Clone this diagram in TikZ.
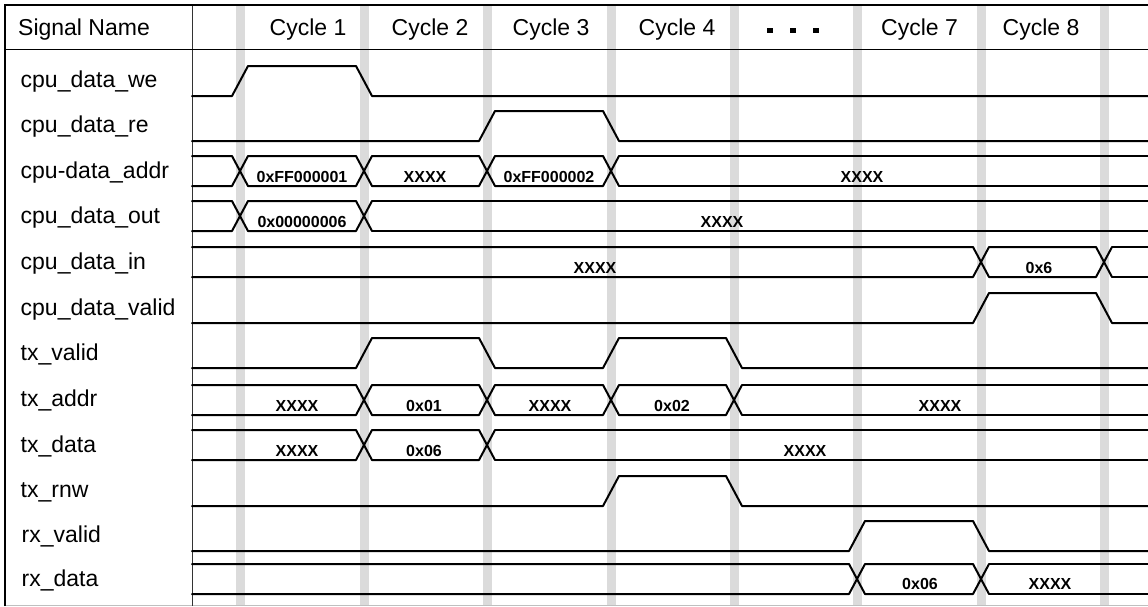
\documentclass[tikz,border=0pt]{standalone}
\usepackage{fontspec}
\setmainfont{Liberation Sans}
\newcommand\busrow[2]{%
  \pgfmathsetmacro\ybot{#1+30}%
  \xdef\xprev{192}%
  \foreach \c in {#2}{%
    \draw[wave] (\xprev,#1) -- (\c-8,#1) -- (\c+8,\ybot) (\xprev,\ybot) -- (\c-8,\ybot) -- (\c+8,#1);
    \pgfmathsetmacro\xn{\c+8}\xdef\xprev{\xn}%
  }%
  \draw[wave] (\xprev,#1) -- (1148,#1) (\xprev,\ybot) -- (1148,\ybot);
}
\begin{document}
\begin{tikzpicture}[x=1pt,y=-1pt,
  wave/.style={line width=2pt, line cap=round, line join=round},
  band/.style={fill=black!14, draw=none},
  signame/.style={anchor=base west, inner sep=0pt, font=\fontsize{23}{27}\selectfont},
  head/.style={anchor=base, inner sep=0pt, font=\fontsize{23}{27}\selectfont},
  val/.style={anchor=base, inner sep=0pt, font=\bfseries\fontsize{16}{19}\selectfont},
  dotsq/.style={fill=black, draw=none, minimum size=5.5pt, inner sep=0pt}]
\useasboundingbox (0,0) rectangle (1148,606);
% gray cycle bands
\foreach \c in {240,364,487,611,734,857,981,1104}
  \fill[band] (\c-4.5,5) rectangle (\c+4.5,606);
% frame
\draw[line width=0.6pt, black!25] (5,605.5) -- (1148,605.5);
\draw[line width=1.2pt, black!80] (192.3,5) -- (192.3,606);
\draw[line width=1pt] (5,49.3) -- (1148,49.3);
\draw[line width=2pt] (5,606) -- (5,5) -- (1148,5);
% header
\node[head] (hname) at (84,35) {Signal Name};
\node[head] (h1) at (308,35) {Cycle 1};
\node[head] (h2) at (430,35) {Cycle 2};
\node[head] (h3) at (551,35) {Cycle 3};
\node[head] (h4) at (677,35) {Cycle 4};
\node[dotsq] (d1) at (770,30.5) {};
\node[dotsq] (d2) at (793,30.5) {};
\node[dotsq] (d3) at (816,30.5) {};
\node[head] (h7) at (919.5,35) {Cycle 7};
\node[head] (h8) at (1041,35) {Cycle 8};
% signal names
\node[signame] (s1) at (20.5,87.5) {cpu\_data\_we};
\node[signame] (s2) at (20.5,132.5) {cpu\_data\_re};
\node[signame] (s3) at (20.5,178) {cpu-data\_addr};
\node[signame] (s4) at (20.5,223) {cpu\_data\_out};
\node[signame] (s5) at (20.5,269) {cpu\_data\_in};
\node[signame] (s6) at (20.5,315) {cpu\_data\_valid};
\node[signame] (s7) at (20.5,360) {tx\_valid};
\node[signame] (s8) at (20.5,406.5) {tx\_addr};
\node[signame] (s9) at (20.5,452) {tx\_data};
\node[signame] (s10) at (20.5,497.5) {tx\_rnw};
\node[signame] (s11) at (21.5,542.5) {rx\_valid};
\node[signame] (s12) at (21.5,586.5) {rx\_data};
% single-bit waveforms
\draw[wave] (192,96) -- (232,96) -- (248,66) -- (356,66) -- (372,96) -- (1148,96);
\draw[wave] (192,141) -- (479,141) -- (495,111) -- (603,111) -- (619,141) -- (1148,141);
\draw[wave] (192,323) -- (973,323) -- (989,293) -- (1096,293) -- (1112,323) -- (1148,323);
\draw[wave] (192,368) -- (356,368) -- (372,338) -- (479,338) -- (495,368) -- (603,368) -- (619,338) -- (726,338) -- (742,368) -- (1148,368);
\draw[wave] (192,506) -- (603,506) -- (619,476) -- (726,476) -- (742,506) -- (1148,506);
\draw[wave] (192,551) -- (849,551) -- (865,521) -- (973,521) -- (989,551) -- (1148,551);
% bus waveforms
\busrow{156}{240,364,487,611}
\busrow{201}{240,364}
\busrow{247}{981,1104}
\busrow{385}{364,487,611,734}
\busrow{430}{364,487}
\busrow{564}{857,981}
% bus values
\node[val] (a1) at (302,182.5) {0xFF000001};
\node[val] (a2) at (425,182.5) {XXXX};
\node[val] (a3) at (549,182.5) {0xFF000002};
\node[val] (a4) at (862,182.5) {XXXX};
\node[val] (o1) at (302,227.5) {0x00000006};
\node[val] (o2) at (722,227.5) {XXXX};
\node[val] (i1) at (595,273) {XXXX};
\node[val] (i2) at (1039,273) {0x6};
\node[val] (t1) at (297,411.5) {XXXX};
\node[val] (t2) at (424,411.5) {0x01};
\node[val] (t3) at (550,411.5) {XXXX};
\node[val] (t4) at (672,411.5) {0x02};
\node[val] (t5) at (940,411.5) {XXXX};
\node[val] (u1) at (297,456.5) {XXXX};
\node[val] (u2) at (424,456.5) {0x06};
\node[val] (u3) at (805,456.5) {XXXX};
\node[val] (r1) at (920,589.5) {0x06};
\node[val] (r2) at (1050,589.5) {XXXX};
\end{tikzpicture}
\end{document}
